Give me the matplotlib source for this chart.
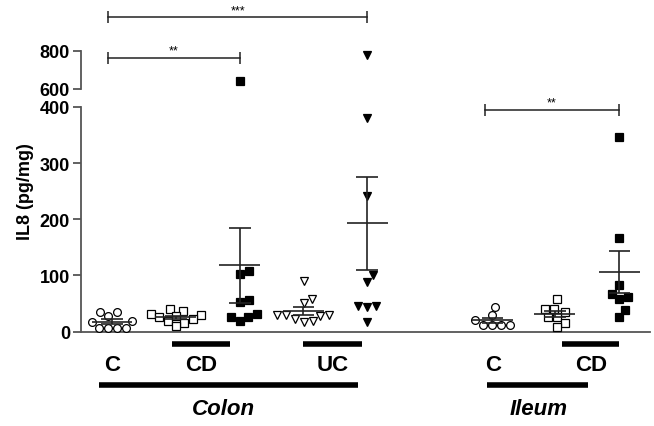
import numpy as np
import matplotlib.pyplot as plt
from matplotlib.transforms import blended_transform_factory

plt.rcParams['font.family'] = ['Liberation Sans', 'DejaVu Sans']

# IL8 values (pg/mg)
colon_c = [34, 28, 35, 17, 18, 6, 6, 6, 6]
colon_cd_open = [37, 40, 31, 25, 29, 22, 16, 18, 10, 27]
colon_cd_filled = [103, 107, 56, 52, 26, 19, 26, 31, 640]
colon_uc_open = [90, 58, 51, 30, 29, 28, 30, 22, 18, 17]
colon_uc_filled = [241, 101, 89, 45, 44, 45, 17, 380, 775]
ileum_c = [44, 29, 21, 11, 11, 11, 11]
ileum_cd_open = [58, 40, 40, 34, 25, 25, 16, 8]
ileum_cd_filled = [346, 166, 83, 61, 67, 58, 38, 26]

groups = [colon_c, colon_cd_open, colon_cd_filled, colon_uc_open,
          colon_uc_filled, ileum_c, ileum_cd_open, ileum_cd_filled]
positions = [0, 1, 2, 3, 4, 5.96, 6.94, 7.95]
markers = ['o', 's', 's', 'v', 'v', 'o', 's', 's']
filled = [False, False, True, False, True, False, False, True]
msizes = [5.6, 6.0, 5.8, 6.4, 6.4, 5.6, 6.0, 5.8]

W, H = 654, 427
BREAK = 400
X_PX = 63.8        # pixels per x unit
Y_PX = 224.5 / 400  # pixels per value on the lower axis
GRAY = '#555555'


def swarm(vals, d=9.0):
    # simple beeswarm in pixel space, returns x offsets in data units
    vals = np.asarray(vals, float)
    ypix = np.where(vals > BREAK, vals * 5, vals * Y_PX)
    xs = np.zeros(len(vals))
    placed = []
    cands = [0.0]
    for k in range(1, 80):
        cands += [k * 0.5, -k * 0.5]
    for i in np.argsort(vals):
        for c in cands:
            if all((c - px) ** 2 + (ypix[i] - py) ** 2 >= d * d for px, py in placed):
                xs[i] = c
                placed.append((c, ypix[i]))
                break
    xs -= (xs.max() + xs.min()) / 2 if len(xs) > 1 and vals.max() < 150 else 0
    return xs / X_PX


fig = plt.figure(figsize=(W / 100, H / 100), dpi=100)
ax = fig.add_axes([81 / W, (H - 332.5) / H, 569 / W, 224.5 / H])
ax_top = fig.add_axes([81 / W, (H - 89.5) / H, 569 / W, 89.5 / H])

xlim = (-0.486, 8.43)
ax.set_xlim(*xlim)
ax.set_ylim(0, 400)
ax_top.set_xlim(*xlim)
ax_top.set_ylim(600, 600 + 89.5 / 0.19)

for a in (ax, ax_top):
    for s in ('top', 'right'):
        a.spines[s].set_visible(False)
    a.spines['left'].set_color(GRAY)
    a.spines['left'].set_linewidth(1.3)
    a.set_xticks([])
    a.tick_params(axis='y', direction='out', length=6, width=1.3, color=GRAY,
                  labelsize=13, pad=2)
ax.spines['bottom'].set_color(GRAY)
ax.spines['bottom'].set_linewidth(1.3)
ax_top.spines['bottom'].set_visible(False)
ax.set_yticks([0, 100, 200, 300, 400])
ax_top.set_yticks([600, 800])
ax_top.spines['left'].set_bounds(600, 800)
for a in (ax, ax_top):
    for lab in a.get_yticklabels():
        lab.set_fontweight('bold')
ax_top.patch.set_alpha(0)

# points
for vals, x0, m, f, ms in zip(groups, positions, markers, filled, msizes):
    vals = np.asarray(vals, float)
    xs = x0 + swarm(vals)
    low = vals <= BREAK
    kw = dict(linestyle='none', marker=m, markersize=ms, markeredgecolor='black',
              markeredgewidth=0.9, markerfacecolor='black' if f else 'white',
              clip_on=False, zorder=3)
    ax.plot(xs[low], vals[low], **kw)
    ax_top.plot(xs[~low], vals[~low], **kw)

    mean = vals.mean()
    sem = vals.std(ddof=1) / np.sqrt(len(vals))
    lk = dict(color='#222222', lw=1.2, zorder=4, solid_capstyle='butt')
    ax.plot([x0 - 0.32, x0 + 0.32], [mean, mean], **lk)
    ax.plot([x0 - 0.17, x0 + 0.17], [mean + sem, mean + sem], **lk)
    ax.plot([x0 - 0.17, x0 + 0.17], [mean - sem, mean - sem], **lk)
    ax.plot([x0, x0], [mean - sem, mean + sem], **lk)

# significance brackets
brackets = [(ax_top, positions[0] - 0.06, positions[4], 974, '***'),
            (ax_top, positions[0] - 0.06, positions[2], 763, '**'),
            (ax, positions[5] - 0.12, positions[7], 395, '**')]
for a, x1, x2, y, txt in brackets:
    a.plot([x1, x2], [y, y], color='#222222', lw=1.1, marker='|', markersize=8,
           markeredgewidth=1.1, clip_on=False)
    a.annotate(txt, ((x1 + x2) / 2, y), xytext=(0, 1), textcoords='offset points',
               ha='center', va='bottom', fontsize=9, annotation_clip=False)

# category labels and underline bars
tr = blended_transform_factory(ax.transData, fig.transFigure)


def fy(py):
    return (H - py) / H


thin_bars = [(0.94, 1.85), (2.99, 3.92), (7.05, 7.95)]
for x1, x2 in thin_bars:
    ax.plot([x1, x2], [fy(344.5)] * 2, color='black', lw=4, transform=tr,
            clip_on=False, solid_capstyle='butt')
for x1, x2 in [(-0.2, 3.86), (5.88, 7.46)]:
    ax.plot([x1, x2], [fy(386)] * 2, color='black', lw=4, transform=tr,
            clip_on=False, solid_capstyle='butt')

cat_labels = [('C', 0.0), ('CD', 1.39), ('UC', 3.46), ('C', 5.97), ('CD', 7.5)]
for txt, x in cat_labels:
    ax.text(x, fy(366), txt, transform=tr, ha='center', va='center',
            fontsize=16, fontweight='bold')
for txt, x in [('Colon', 1.74), ('Ileum', 6.68)]:
    ax.text(x, fy(410), txt, transform=tr, ha='center', va='center',
            fontsize=16, fontweight='bold', style='italic')

fig.text(25 / W, fy(192), 'IL8 (pg/mg)', rotation=90, ha='center', va='center',
         fontsize=13, fontweight='bold')

fig.savefig('out.png', dpi=100)
